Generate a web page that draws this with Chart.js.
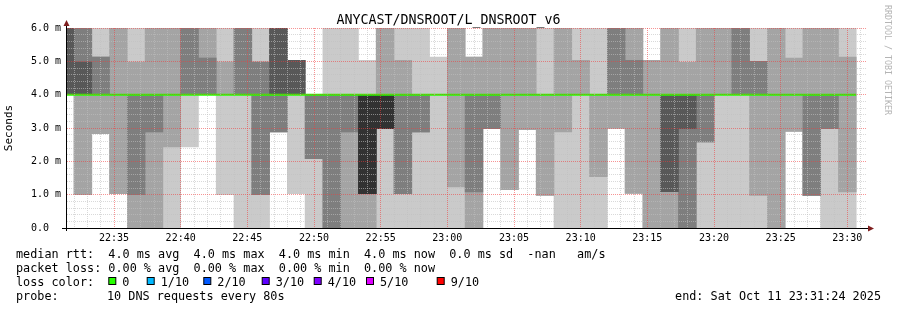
<!DOCTYPE html>
<html>
<head>
<meta charset="utf-8">
<script src="https://cdn.jsdelivr.net/npm/chart.js@4.4.0/dist/chart.umd.min.js"></script>
<style>
  html, body { margin: 0; padding: 0; background: #fff; }
</style>
</head>
<body>
<canvas id="chart" width="897" height="310"></canvas>
<script>
const title = 'ANYCAST/DNSROOT/L_DNSROOT_v6';

// time axis in minutes after 22:00
const axisStart = 31.475;         // 22:31:28
const axisEnd = 91.475;
const firstSlot = 31.333;         // centre of the first (clipped) 80 s step
const slotMinutes = 80 / 60;
const xTickValues = [35, 40, 45, 50, 55, 60, 65, 70, 75, 80, 85, 90];
const xTickLabels = ['22:35', '22:40', '22:45', '22:50', '22:55', '23:00',
                     '23:05', '23:10', '23:15', '23:20', '23:25', '23:30'];
const yTickLabels = ['0.0  ', '1.0 m', '2.0 m', '3.0 m', '4.0 m', '5.0 m', '6.0 m'];

// smoke bands in ms, outermost pair (1) to innermost pair (5), null = nothing drawn
const smoke1 = [
  [4, 6], [1.0, 6], [2.83, 6], [1.03, 6], [0, 6], [0, 6], [0, 6], [2.43, 6], [4, 6], [1.0, 6],
  [0, 6], [0, 6], [2.88, 6], [1.03, 5.03], [0, 4], [0, 6], [0, 6], [0, 5.03], [0, 6], [0, 6],
  [0, 6], [0, 5.13], [0, 6], [0, 5.13], [2.98, 6], [1.15, 6], [2.95, 6], [0.98, 6], [0, 6], [0, 6],
  [0, 6], [2.99, 6], [1.04, 6], [0, 5.03], [0, 6], [0, 6], [0, 6], [0, 6], [0, 6], [0, 6],
  [0, 6], [2.9, 6], [0.98, 6], [0, 6], [0, 6]
];
const smoke2 = [
  [4, 6], [1.0, 6], [2.83, 5.13], [1.03, 6], [0, 4.98], [0, 6], [2.43, 6], [4, 6], [4, 6], [4, 4.98],
  [4, 6], [1.0, 4.98], [2.88, 6], [4, 5.03], [2.08, 4], [0, 4], [0, 4], [0, 4], [2.98, 6], [1.03, 5.03],
  [2.88, 4], null, [1.23, 6], [0, 5.13], [2.98, 6], [1.15, 6], [2.95, 6], [0.98, 4], [2.88, 6], [4, 5.03],
  [1.54, 4], [2.99, 6], [1.04, 6], [0, 5.03], [0, 6], [0, 4.97], [2.58, 6], [4, 6], [4, 6], [0.98, 5.0],
  [0, 6], [2.9, 5.1], [0.98, 6], [2.98, 6], [1.08, 5.13]
];
const smoke3 = [
  [4, 6], [4, 6], [4, 5.13], null, [1.0, 4], [2.88, 4], null, [4, 6], [4, 5.1], null,
  [4, 6], [1.0, 4.98], [2.88, 6], [4, 5.03], [2.08, 4], [0, 4], [2.88, 4], [1.03, 4], [2.98, 4], [1.03, 4],
  [2.88, 4], null, null, [1.08, 4], [2.98, 4], null, null, null, null, null,
  null, [4, 6], [4, 5.03], null, [1.09, 4], [0, 4], [2.58, 4], null, [4, 6], [4, 5.0],
  null, null, [0.98, 4], [2.98, 4], null
];
const smoke4 = [
  [4, 6], [4, 4.98], null, null, null, null, null, null, null, null,
  null, null, [4, 6], [4, 5.03], null, null, null, [1.03, 4], [2.98, 4], null,
  null, null, null, null, null, null, null, null, null, null,
  null, null, null, null, [1.09, 4], [2.98, 4], null, null, null, null,
  null, null, null, null, null
];
const smoke5 = [
  null, null, null, null, null, null, null, null, null, null,
  null, null, null, null, null, null, null, [1.03, 4], [2.98, 4], null,
  null, null, null, null, null, null, null, null, null, null,
  null, null, null, null, null, null, null, null, null, null,
  null, null, null, null, null
];
const median = [
  4.0, 4.0, 4.0, 4.0, 4.0, 4.0, 4.0, 4.0, 4.0, 4.0,
  4.0, 4.0, 4.0, 4.0, 4.0, 4.0, 4.0, 4.0, 4.0, 4.0,
  4.0, 4.0, 4.0, 4.0, 4.0, 4.0, 4.0, 4.0, 4.0, 4.0,
  4.0, 4.0, 4.0, 4.0, 4.0, 4.0, 4.0, 4.0, 4.0, 4.0,
  4.0, 4.0, 4.0, 4.0, 4.0
];

const smokeLayers = [smoke1, smoke2, smoke3, smoke4, smoke5];
const smokeColors = ['#cacaca', '#a4a4a4', '#7e7e7e', '#585858', '#323232'];

const legendLines = [
  'median rtt:  4.0 ms avg  4.0 ms max  4.0 ms min  4.0 ms now  0.0 ms sd  -nan   am/s',
  'packet loss: 0.00 % avg  0.00 % max  0.00 % min  0.00 % now'
];
const lossLabels = ['0', '1/10', '2/10', '3/10', '4/10', '5/10', '9/10'];
const lossColors = ['#26ff00', '#00b8ff', '#0059ff', '#5e00ff', '#7e00ff', '#dd00ff', '#ff0000'];
const probeText = '10 DNS requests every 80s';
const endText = 'end: Sat Oct 11 23:31:24 2025';
const watermark = 'RRDTOOL / TOBI OETIKER';

const MONO = '"DejaVu Sans Mono", monospace';
const slotX = i => firstSlot + i * slotMinutes;

const datasets = [];
datasets.push({
  type: 'line',
  label: 'median',
  data: median.map((v, i) => ({ x: slotX(i) - slotMinutes / 2, y: v }))
    .concat([{ x: slotX(median.length - 1) + slotMinutes / 2, y: median[median.length - 1] }]),
  borderColor: '#26ff00',
  borderWidth: 2,
  pointRadius: 0,
  stepped: 'after',
  clip: 0,
  order: 0
});
smokeLayers.forEach((layer, li) => {
  datasets.push({
    type: 'bar',
    label: 'smoke ' + (li + 1),
    data: layer.map((v, i) => v ? { x: slotX(i), y: v } : null).filter(Boolean),
    backgroundColor: smokeColors[li],
    borderWidth: 0,
    grouped: false,
    barPercentage: 1,
    categoryPercentage: 1,
    clip: 0,
    order: 10 - li
  });
});

const minorColor = 'rgba(192,192,192,0.6)';
const majorColor = 'rgba(240,60,60,0.55)';

// one minor vertical grid line per minute
function minuteTicks(scale) {
  const ticks = [];
  for (let m = Math.ceil(scale.min); m < scale.max; m++) {
    if (m % 5 !== 0) ticks.push({ value: m });
  }
  scale.ticks = ticks;
}

// rrdtool paints its dotted grid over the graph, so do the same from the scales' ticks
const gridOnTop = {
  id: 'gridOnTop',
  afterDatasetsDraw(chart) {
    const { ctx, chartArea: a, scales } = chart;
    const stroke = (scale, color, vertical, skip) => {
      ctx.strokeStyle = color;
      scale.ticks.forEach(t => {
        if (skip && skip(t.value)) return;
        const p = Math.round(scale.getPixelForValue(t.value) - 0.5 + 1e-6) + 0.5;
        ctx.beginPath();
        if (vertical) { ctx.moveTo(p, a.top); ctx.lineTo(p, a.bottom); }
        else { ctx.moveTo(a.left, p); ctx.lineTo(a.right, p); }
        ctx.stroke();
      });
    };
    const onMajor = v => Math.abs(v - Math.round(v)) < 1e-6;
    ctx.save();
    ctx.lineWidth = 1;
    ctx.setLineDash([1, 1]);
    stroke(scales.x2, minorColor, true);
    stroke(scales.y2, minorColor, false, onMajor);
    stroke(scales.x, majorColor, true);
    stroke(scales.y, majorColor, false, v => v === 0);
    ctx.restore();
  }
};

const rrdDecor = {
  id: 'rrdDecor',
  afterDraw(chart) {
    const { ctx, chartArea: a } = chart;
    ctx.save();

    // axes with arrows
    ctx.strokeStyle = '#000';
    ctx.lineWidth = 1;
    ctx.beginPath();
    ctx.moveTo(a.left - 0.5, a.bottom + 3);
    ctx.lineTo(a.left - 0.5, a.top - 5);
    ctx.moveTo(a.left - 5, a.bottom + 0.5);
    ctx.lineTo(a.right + 3, a.bottom + 0.5);
    ctx.stroke();
    ctx.fillStyle = '#7f1f1f';
    ctx.beginPath();
    ctx.moveTo(a.left - 0.5, a.top - 8);
    ctx.lineTo(a.left - 3.5, a.top - 2);
    ctx.lineTo(a.left + 2.5, a.top - 2);
    ctx.closePath();
    ctx.fill();
    ctx.beginPath();
    ctx.moveTo(a.right + 7, a.bottom + 0.5);
    ctx.lineTo(a.right + 1, a.bottom - 2.5);
    ctx.lineTo(a.right + 1, a.bottom + 3.5);
    ctx.closePath();
    ctx.fill();

    // title
    ctx.fillStyle = '#000';
    ctx.font = '13.3px ' + MONO;
    ctx.textAlign = 'center';
    ctx.textBaseline = 'alphabetic';
    ctx.fillText(title, chart.width / 2, 24);

    // legend block
    ctx.font = '11.8px ' + MONO;
    ctx.textAlign = 'left';
    ctx.fillText(legendLines[0], 16, 258);
    ctx.fillText(legendLines[1], 16, 272);
    ctx.fillText('loss color:', 16, 286);
    const boxX = [108.3, 146.7, 203.3, 261.7, 313.7, 366, 436.7];
    lossLabels.forEach((lab, i) => {
      ctx.fillStyle = lossColors[i];
      ctx.fillRect(boxX[i] + 0.5, 277.5, 7, 7);
      ctx.strokeStyle = '#000';
      ctx.strokeRect(boxX[i] + 0.5, 277.5, 7, 7);
      ctx.fillStyle = '#000';
      ctx.fillText(lab, boxX[i] + 14, 286);
    });
    ctx.fillText('probe:', 16, 300);
    ctx.fillText(probeText, 107, 300);
    ctx.textAlign = 'right';
    ctx.fillText(endText, 881, 300);

    // vertical watermark
    ctx.save();
    ctx.translate(887, 5);
    ctx.rotate(Math.PI / 2);
    ctx.font = '8.3px ' + MONO;
    ctx.fillStyle = '#b4b4b4';
    ctx.textAlign = 'left';
    ctx.textBaseline = 'middle';
    ctx.fillText(watermark, 0, 0);
    ctx.restore();

    ctx.restore();
  }
};

const noGrid = { display: false, drawTicks: false };

new Chart(document.getElementById('chart'), {
  data: { datasets },
  options: {
    responsive: false,
    animation: false,
    events: [],
    layout: { padding: { top: 28, right: 30, bottom: 62, left: 0 } },
    plugins: { legend: { display: false }, tooltip: { enabled: false }, title: { display: false } },
    scales: {
      x: {
        type: 'linear', position: 'bottom', min: axisStart, max: axisEnd, offset: false,
        afterFit: s => { s.height = 20; },
        afterBuildTicks: s => { s.ticks = xTickValues.map(v => ({ value: v })); },
        ticks: {
          autoSkip: false, maxRotation: 0, maxTicksLimit: 100,
          padding: 4, color: '#000', font: { family: MONO, size: 10 },
          callback: (v, i) => xTickLabels[i]
        },
        grid: noGrid,
        border: { display: false }
      },
      x2: {
        type: 'linear', position: 'bottom', min: axisStart, max: axisEnd, offset: false,
        afterFit: s => { s.height = 0; },
        afterBuildTicks: minuteTicks,
        ticks: { display: false, autoSkip: false, maxTicksLimit: 100 },
        grid: noGrid,
        border: { display: false }
      },
      y: {
        type: 'linear', position: 'left', min: 0, max: 6,
        afterFit: s => { s.width = 67; },
        ticks: {
          stepSize: 1, padding: 6, maxTicksLimit: 100, color: '#000', font: { family: MONO, size: 10 },
          callback: v => yTickLabels[Math.round(v)]
        },
        grid: noGrid,
        border: { display: false },
        title: { display: true, text: 'Seconds', color: '#000', font: { family: MONO, size: 11 }, padding: { top: 3, bottom: 0 } }
      },
      y2: {
        type: 'linear', position: 'left', min: 0, max: 6,
        afterFit: s => { s.width = 0; },
        ticks: { display: false, stepSize: 0.2, maxTicksLimit: 100 },
        grid: noGrid,
        border: { display: false }
      }
    }
  },
  plugins: [gridOnTop, rrdDecor]
});
</script>
</body>
</html>
